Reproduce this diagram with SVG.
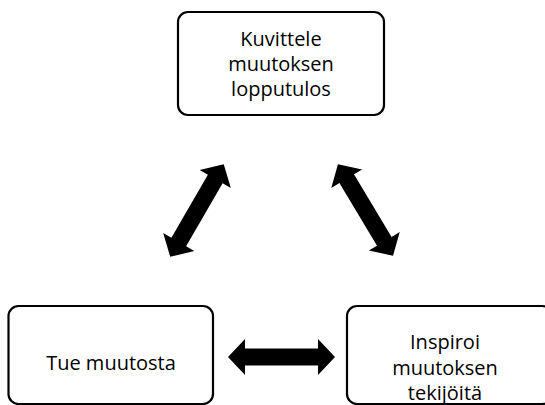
<svg xmlns="http://www.w3.org/2000/svg" width="545" height="405" viewBox="0 0 545 405">
<style>
.box{fill:#fff;stroke:#000;stroke-width:2.2}
.lbl{font-family:"Open Sans","Liberation Sans",sans-serif;font-size:20px;fill:#000;text-anchor:middle}
.arr{fill:#000}
</style>
<defs>
<polygon id="dbl" points="-53.5,0 -36.5,-18 -36.5,-8.5 36.5,-8.5 36.5,-18 53.5,0 36.5,18 36.5,8.5 -36.5,8.5 -36.5,18"/>
</defs>
<rect width="545" height="405" fill="#fff"/>
<g id="connectors" class="arr">
<use href="#dbl" transform="translate(197,210.5) rotate(-60)"/>
<use href="#dbl" transform="translate(365.5,210) rotate(59)"/>
<use href="#dbl" transform="translate(281.5,357)"/>
</g>
<g id="node-kuvittele">
<rect class="box" x="178" y="12" width="206" height="103" rx="10"/>
<text class="lbl" x="281" y="46">Kuvittele</text>
<text class="lbl" x="281" y="71">muutoksen</text>
<text class="lbl" x="281" y="96">lopputulos</text>
</g>
<g id="node-tue">
<rect class="box" x="8.5" y="306" width="204.5" height="98" rx="10"/>
<text class="lbl" x="111" y="369.5">Tue muutosta</text>
</g>
<g id="node-inspiroi">
<rect class="box" x="347" y="306" width="205" height="98" rx="10"/>
<text class="lbl" x="445" y="349">Inspiroi</text>
<text class="lbl" x="445" y="375">muutoksen</text>
<text class="lbl" x="445" y="400">tekijöitä</text>
</g>
</svg>
